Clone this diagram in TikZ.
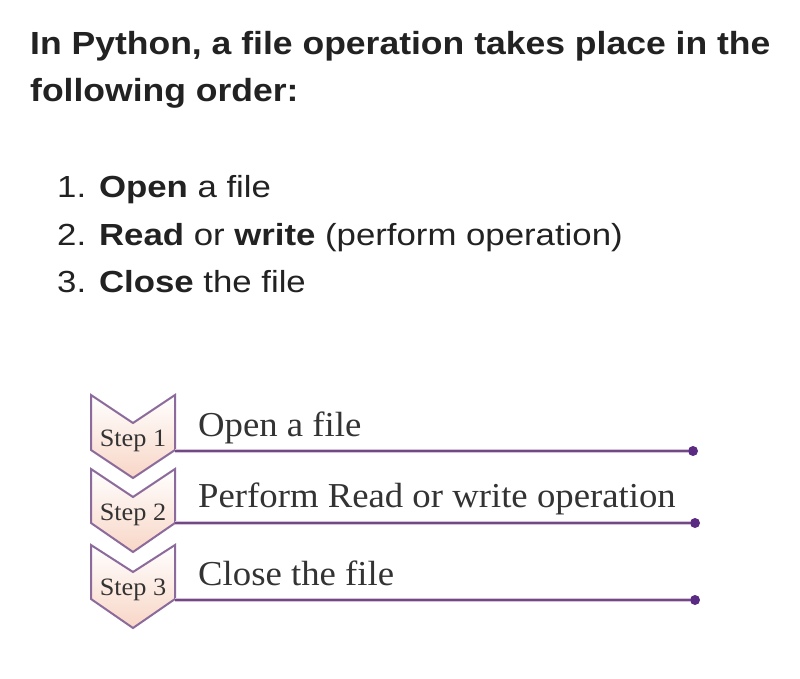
\documentclass[tikz,border=0pt]{standalone}
\usepackage{fontspec}
\setmainfont[FakeStretch=1.05]{Liberation Serif}
\newfontfamily\headfont[FakeStretch=1.11]{Liberation Sans}
\newfontfamily\listfont[FakeStretch=1.14]{Liberation Sans}
\definecolor{stepline}{HTML}{6F4A80}
\definecolor{stepglow}{HTML}{D9BEDF}
\definecolor{stepedge}{HTML}{8C6A9C}
\definecolor{stepdot}{HTML}{5B2A82}
\definecolor{steppeach}{HTML}{F8D6C6}
\definecolor{inktext}{HTML}{222222}
\definecolor{steptext}{HTML}{333333}
\tikzset{
  chevron/.style={draw=stepedge,line width=2pt,line join=miter,top color=white,bottom color=steppeach},
  rule/.style={draw=stepglow,double=stepline,double distance=2.2pt,line width=1.3pt},
  dot/.style={circle,fill=stepdot,inner sep=0pt,minimum size=10pt},
  steplabel/.style={font=\fontsize{25}{27}\selectfont,text=steptext,inner sep=0pt,anchor=base},
  stepname/.style={font=\fontsize{35}{38}\selectfont,text=steptext,inner sep=0pt,anchor=base west},
  headline/.style={font=\headfont\bfseries\fontsize{32}{35}\selectfont,text=inktext,inner sep=0pt,anchor=base west},
  listline/.style={font=\listfont\fontsize{30.5}{33}\selectfont,text=inktext,inner sep=0pt,anchor=base west}
}
\begin{document}
\begin{tikzpicture}[x=1pt,y=-1pt]
 \useasboundingbox (0,0) rectangle (800,679);
 \fill[white] (0,0) rectangle (800,679);
 % heading and list
 \node[headline] (head1) at (30,55) {In Python, a file operation takes place in the};
 \node[headline] (head2) at (30,102) {following order:};
 \node[listline] (item1) at (57,197) {1. \textbf{Open} a file};
 \node[listline] (item2) at (57,245) {2. \textbf{Read} or \textbf{write} (perform operation)};
 \node[listline] (item3) at (57,292) {3. \textbf{Close} the file};
 % step 1
 \draw[chevron](91,395)--(133,423)--(175,395)--(175,450)--(133,478)--(91,450)--cycle;
 \node[steplabel] (step1) at (133,446) {Step 1};
 \coordinate (s1) at (175,451);
 \node[dot] (d1) at (693,451) {};
 \draw[rule] (s1) -- (d1);
 \node[stepname] (op1) at (198,436) {Open a file};
 % step 2
 \draw[chevron](91,469)--(133,497)--(175,469)--(175,523)--(133,552)--(91,523)--cycle;
 \node[steplabel] (step2) at (133,520) {Step 2};
 \coordinate (s2) at (175,523);
 \node[dot] (d2) at (695,523) {};
 \draw[rule] (s2) -- (d2);
 \node[stepname] (op2) at (198,507) {Perform Read or write operation};
 % step 3
 \draw[chevron](91,545)--(133,572)--(175,545)--(175,599)--(133,628)--(91,599)--cycle;
 \node[steplabel] (step3) at (133,595) {Step 3};
 \coordinate (s3) at (175,600);
 \node[dot] (d3) at (695,600) {};
 \draw[rule] (s3) -- (d3);
 \node[stepname] (op3) at (198,585) {Close the file};
\end{tikzpicture}
\end{document}
